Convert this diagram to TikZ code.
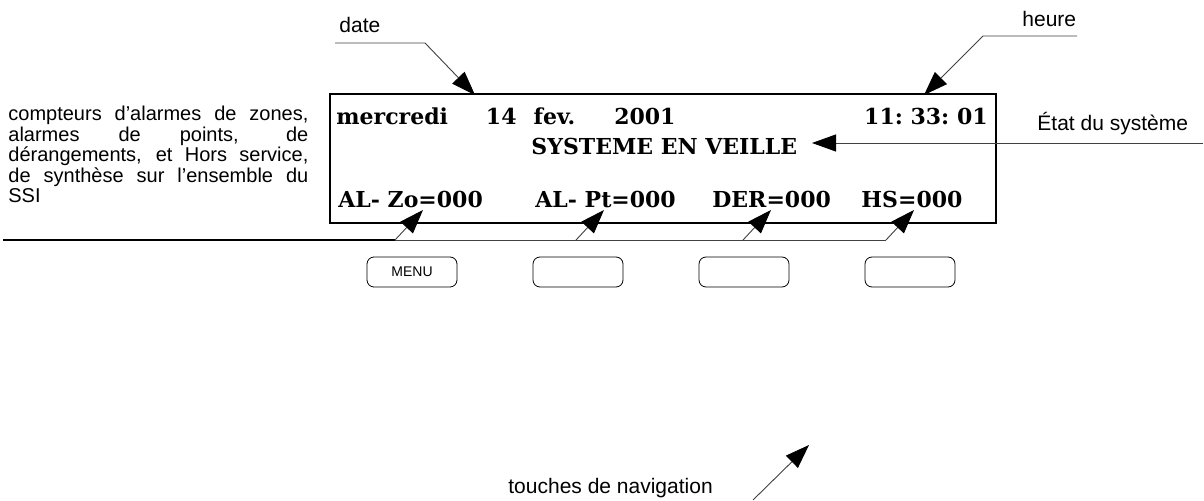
\documentclass[tikz,border=0pt]{standalone}
\usepackage{fontspec}
\setmainfont{Liberation Sans}
\newfontfamily\lcdfont{DejaVu Serif}
\usetikzlibrary{arrows.meta, positioning}

\tikzset{
  lbl/.style={font=\fontsize{10.5}{12}\selectfont, inner sep=0pt, anchor=base west},
  lcd/.style={font=\lcdfont\bfseries\fontsize{11}{13}\selectfont, inner sep=0pt, anchor=base west},
  ecran/.style={draw, line width=1.2pt, minimum width=333pt, minimum height=64.5pt, inner sep=0pt},
  leader/.style={draw=black!75, line width=0.45pt},
  bigtip/.style={-{Triangle[length=12pt, width=8.5pt, color=black]}},
  touche/.style={draw, rounded corners=3.5pt, line width=0.4pt, minimum width=45pt,
    minimum height=15pt, inner sep=0pt, font=\fontsize{7}{8}\selectfont}
}

\begin{document}
\begin{tikzpicture}[x=0.5pt, y=-0.5pt, >=latex]
    \useasboundingbox (0,0) rectangle (1204,501);

    % 1. L'écran et son texte
    \node[ecran, anchor=north west] (ecran) at (329,93) {};
    \node[lcd] (jour) at (336,125)
        {mercredi\hspace{19pt}14\hspace{8.5pt}fev.\hspace{19.5pt}2001};
    \node[lcd, anchor=base east] (horloge) at (988,125) {11:~33:~01};
    \node[lcd] (etat) at (531,155) {SYSTEME EN VEILLE};
    \node[lcd] (zo) at (338,208) {AL-~Zo=000};
    \node[lcd] (pt) at (535,208) {AL-~Pt=000};
    \node[lcd] (der) at (712,208) {DER=000};
    \node[lcd] (hs) at (861,208) {HS=000};

    % 2. Les touches
    \foreach \i/\txt in {0/MENU, 1/, 2/, 3/} {
        \node[touche] (t\i) at (412+166*\i,272) {\txt};
    }

    % 3. Les légendes
    \node[lbl] (date) at (339,33) {date};
    \node[lbl] (heure) at (1022,27) {heure};
    \node[lbl] (systeme) at (1037,131) {État du système};
    \node[lbl] (navig) at (508,494) {touches de navigation};
    \node[lbl, anchor=north west, text width=150pt, align=justify,
        font={\fontsize{10}{10.2}\selectfont\lineskiplimit=-20pt}] (compteurs) at (8,106)
        {compteurs d’alarmes de zones,\linebreak alarmes de points, de\linebreak
         dérangements, et Hors service,\linebreak de synthèse sur l’ensemble du\linebreak SSI};

    % 4. Les flèches
    \coordinate (d1) at (335,43);
    \coordinate (d2) at (425,43);
    \coordinate (d3) at (475,95);
    \draw[leader, bigtip] (d1) -- (d2) -- (d3);
    \coordinate (h1) at (1077,36);
    \coordinate (h2) at (983,36);
    \coordinate (h3) at (924,95);
    \draw[leader, bigtip] (h1) -- (h2) -- (h3);
    \coordinate (e1) at (1203,143);
    \coordinate (e2) at (812,143);
    \draw[leader, bigtip] (e1) -- (e2);
    \coordinate (n1) at (753,500);
    \coordinate (n2) at (809,445);
    \draw[leader, bigtip] (n1) -- (n2);

    % 5. Les compteurs
    \coordinate (b0) at (3,240);
    \coordinate (b1) at (886,240);
    \draw[line width=0.8pt] (b0) -- (395,240);
    \draw[leader] (395,240) -- (b1);
    \foreach \xa/\nom in {395/zo, 576/pt, 743/der, 886/hs} {
        \coordinate (p\nom) at (\xa,240);
        \draw[leader, bigtip] (p\nom) -- ++(28,-30);
    }
\end{tikzpicture}
\end{document}
